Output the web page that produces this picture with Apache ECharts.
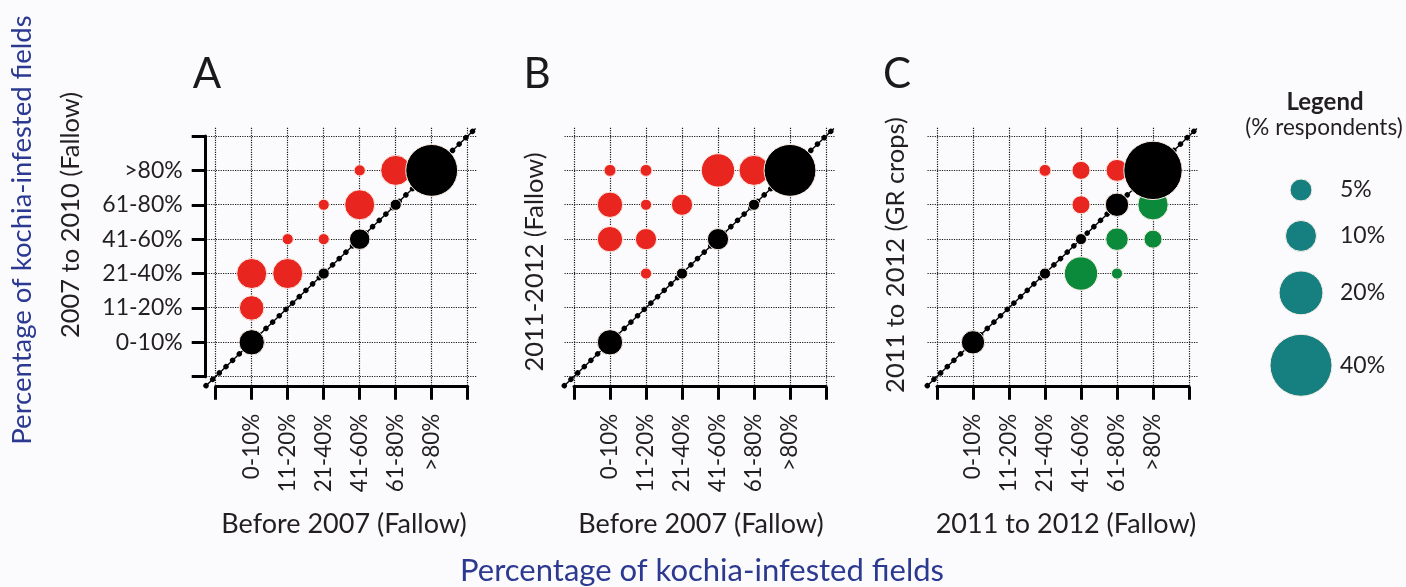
<!DOCTYPE html>
<html>
<head>
<meta charset="utf-8">
<script src="https://cdn.jsdelivr.net/npm/echarts@6/dist/echarts.min.js"></script>
<style>
html,body{margin:0;padding:0;background:#fbfbfd;}
#chart{width:1406px;height:587px;}
</style>
</head>
<body>
<div id="chart"></div>
<script>
// ---- data ----
const categories = ['0-10%', '11-20%', '21-40%', '41-60%', '61-80%', '>80%'];
// each point: [x category index, y category index, % respondents]
const panelA_red = [[0,1,6.3],[0,2,9.4],[1,2,9.4],[1,3,1.3],[2,3,1.3],[2,4,1.3],[3,4,9.4],[3,5,1.3],[4,5,9.4]];
const panelA_black = [[0,0,6.7],[2,2,1.3],[3,3,4.4],[4,4,1.3],[5,5,28]];
const panelB_red = [[0,5,1.5],[1,5,1.5],[3,5,11.6],[4,5,9.4],[0,4,6.7],[1,4,1.3],[2,4,4.7],[0,3,6.7],[1,3,4.7],[1,2,1.3]];
const panelB_black = [[0,0,6.7],[2,2,1.3],[3,3,4.7],[4,4,1.3],[5,5,28]];
const panelC_red = [[2,5,1.5],[3,5,3.4],[4,5,5.0],[3,4,3.4]];
const panelC_green = [[5,4,9.6],[4,3,5.3],[5,3,3.4],[3,2,11.6],[4,2,1.3]];
const panelC_black = [[0,0,5.7],[2,2,1.3],[3,3,1.3],[4,4,5.7],[5,5,35.5]];
const legendValues = [5, 10, 20, 40];
const legendLabels = ['5%', '10%', '20%', '40%'];
const panelLetters = ['A', 'B', 'C'];
const yTitles = ['2007 to 2010 (Fallow)', '2011-2012 (Fallow)', '2011 to 2012 (GR crops)'];
const xTitles = ['Before 2007 (Fallow)', 'Before 2007 (Fallow)', '2011 to 2012 (Fallow)'];
const mainTitle = 'Percentage of kochia-infested fields';
const diagonalEnds = [[-1.27, -1.27], [6.22, 6.22]];
const gridValues = [-1, 0, 1, 2, 3, 4, 5, 6];

// ---- style / layout ----
const FONT = 'Lato';
const TXT = '#231f20';
const BLUE = '#2b3990';
const RED = '#e8251f';
const GREEN = '#0c8a3c';
const BLACK = '#000000';
const TEAL = '#15807f';
const K = 4.9; // radius = K * sqrt(percent)
const sizeFn = v => 2 * K * Math.sqrt(v[2]);

const panelLeft = [215.7, 574, 937];
const innerW = 252, innerTop = 136, innerH = 240.7;

const grids = [], xAxes = [], yAxes = [], series = [];
panelLeft.forEach((L, i) => {
  grids.push({left: L, top: innerTop, width: innerW, height: innerH});
});
panelLeft.forEach((L, i) => {
  grids.push({left: L - 9.5, top: innerTop - 8.3, width: innerW + 19, height: innerH + 17.3});
});
for (let i = 0; i < 3; i++) {
  xAxes.push({
    gridIndex: i, type: 'value', min: -1, max: 6, interval: 1, offset: 10,
    axisLine: {show: true, onZero: false, lineStyle: {color: '#000', width: 3}},
    axisTick: {show: true, length: 13, lineStyle: {color: '#000', width: 3}},
    axisLabel: {show: true, rotate: 90, margin: 27, fontSize: 22.5, fontFamily: FONT, color: TXT,
      formatter: v => categories[v] || ''},
    splitLine: {show: false}
  });
  yAxes.push({
    gridIndex: i, type: 'value', min: -1, max: 6, interval: 1, offset: 10,
    axisLine: {show: i === 0, onZero: false, lineStyle: {color: '#000', width: 3}},
    axisTick: {show: i === 0, length: 14, lineStyle: {color: '#000', width: 3}},
    axisLabel: {show: i === 0, margin: 23, fontSize: 23, fontFamily: FONT, color: TXT,
      formatter: v => categories[v] || ''},
    splitLine: {show: false}
  });
}
for (let i = 0; i < 3; i++) {
  xAxes.push({
    gridIndex: 3 + i, type: 'value', min: -1.264, max: 6.264,
    axisLine: {show: false}, axisLabel: {show: false},
    axisTick: {show: false, customValues: gridValues},
    splitLine: {show: true, lineStyle: {type: 'dotted', color: '#1a1a1a', width: 1.2}}
  });
  yAxes.push({
    gridIndex: 3 + i, type: 'value', min: -1.27, max: 6.24,
    axisLine: {show: false}, axisLabel: {show: false},
    axisTick: {show: false, customValues: gridValues},
    splitLine: {show: true, lineStyle: {type: 'dotted', color: '#1a1a1a', width: 1.2}}
  });
}

const panels = [
  {red: panelA_red, green: [], black: panelA_black},
  {red: panelB_red, green: [], black: panelB_black},
  {red: panelC_red, green: panelC_green, black: panelC_black}
];
panels.forEach((p, i) => {
  series.push({type: 'line', xAxisIndex: 3 + i, yAxisIndex: 3 + i, data: diagonalEnds, symbol: 'none',
    silent: true, z: 1, clip: false, lineStyle: {color: '#000', width: 1.4}});
  series.push({type: 'line', xAxisIndex: 3 + i, yAxisIndex: 3 + i, data: diagonalEnds, symbol: 'none',
    silent: true, z: 1, clip: false, lineStyle: {color: '#000', width: 5.4, type: [0.01, 9.2], cap: 'round'}});
  [['red', RED], ['green', GREEN], ['black', BLACK]].forEach(([k, c], j) => {
    if (!p[k].length) return;
    series.push({type: 'scatter', xAxisIndex: i, yAxisIndex: i, data: p[k], symbolSize: sizeFn,
      clip: false, z: 3 + j,
      itemStyle: {color: c, opacity: 1, borderColor: '#fbeee6', borderWidth: 1}});
  });
});

// ---- graphic texts & legend ----
const graphic = [];
const letterX = [207, 537, 897];
panelLetters.forEach((t, i) => graphic.push({type: 'text', x: letterX[i], y: 74,
  style: {text: t, textAlign: 'center', textVerticalAlign: 'middle', fontSize: 42, fontFamily: FONT, fill: '#1a1a1a'}}));
const yTitlePos = [[71, 215], [535, 262], [896, 255]];
yTitles.forEach((t, i) => graphic.push({type: 'text', x: yTitlePos[i][0], y: yTitlePos[i][1], rotation: Math.PI / 2,
  style: {text: t, textAlign: 'center', textVerticalAlign: 'middle', fontSize: 25.5, fontFamily: FONT, fill: TXT}}));
const xTitleX = [344, 701, 1066];
xTitles.forEach((t, i) => graphic.push({type: 'text', x: xTitleX[i], y: 524,
  style: {text: t, textAlign: 'center', textVerticalAlign: 'middle', fontSize: 27, fontFamily: FONT, fill: TXT}}));
graphic.push({type: 'text', x: 702, y: 571,
  style: {text: mainTitle, textAlign: 'center', textVerticalAlign: 'middle', fontSize: 31, fontFamily: FONT, fill: BLUE}});
graphic.push({type: 'text', x: 22, y: 230, rotation: Math.PI / 2,
  style: {text: mainTitle, textAlign: 'center', textVerticalAlign: 'middle', fontSize: 27.5, fontFamily: FONT, fill: BLUE}});
graphic.push({type: 'text', x: 1325, y: 102,
  style: {text: 'Legend', textAlign: 'center', textVerticalAlign: 'middle', fontSize: 24, fontWeight: 'bold', fontFamily: FONT, fill: TXT}});
graphic.push({type: 'text', x: 1324, y: 128,
  style: {text: '(% respondents)', textAlign: 'center', textVerticalAlign: 'middle', fontSize: 22.5, fontFamily: FONT, fill: TXT}});
let ly = 190, prevR = 0;
legendValues.forEach((v, i) => {
  const r = K * Math.sqrt(v);
  if (i > 0) ly += prevR + r + 19.5;
  prevR = r;
  graphic.push({type: 'circle', shape: {cx: 1301, cy: ly, r: r}, style: {fill: TEAL, stroke: '#fbeee6', lineWidth: 1}});
  graphic.push({type: 'text', x: 1340, y: ly,
    style: {text: legendLabels[i], textAlign: 'left', textVerticalAlign: 'middle', fontSize: 23, fontFamily: FONT, fill: TXT}});
});

const chart = echarts.init(document.getElementById('chart'), null, {renderer: 'canvas'});
chart.setOption({
  backgroundColor: '#fbfbfd',
  animation: false,
  grid: grids, xAxis: xAxes, yAxis: yAxes, series: series, graphic: graphic
});
</script>
</body>
</html>
